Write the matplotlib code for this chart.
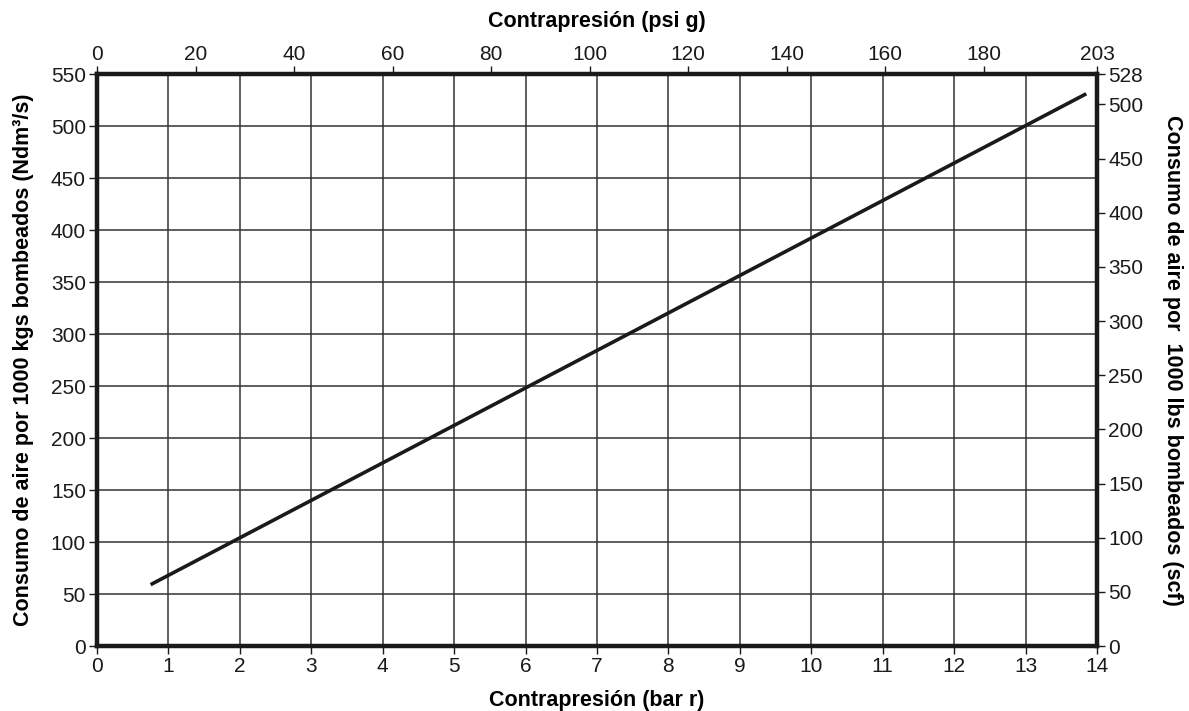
import numpy as np
import matplotlib.pyplot as plt

plt.rcParams['font.family'] = ['Liberation Sans', 'DejaVu Sans']

# datos
bar_r = [0.75, 13.85]
consumo_ndm3 = [59, 531]

bar_ticks = list(range(0, 15))
ndm3_ticks = list(range(0, 551, 50))
psi_ticks = [0, 20, 40, 60, 80, 100, 120, 140, 160, 180, 203]
scf_ticks = [0, 50, 100, 150, 200, 250, 300, 350, 400, 450, 500, 528]

fig = plt.figure(figsize=(11.89, 7.11), dpi=100)
ax = fig.add_axes([0.0816, 0.0914, 0.8410, 0.8045])

ax.set_xlim(0, 14)
ax.set_ylim(0, 550)
ax.set_xticks(bar_ticks)
ax.set_yticks(ndm3_ticks)
ax.grid(True, color='#333333', linewidth=1.1)
ax.set_axisbelow(True)
ax.plot(bar_r, consumo_ndm3, color='#1a1a1a', linewidth=2.6, solid_capstyle='butt')

for s in ax.spines.values():
    s.set_linewidth(3)
    s.set_color('#1a1a1a')
ax.tick_params(labelsize=15, length=6, width=1, direction='out', colors='#1a1a1a', pad=2)
ax.set_xlabel('Contrapresión (bar r)', fontsize=15.5, fontweight='bold', labelpad=10)
ax.set_ylabel('Consumo de aire por 1000 kgs bombeados (Ndm³/s)', fontsize=15.5,
              fontweight='bold', labelpad=12)

top = ax.twiny()
top.set_xlim(0, 203)
top.set_xticks(psi_ticks)
top.tick_params(labelsize=15, length=6, width=1, direction='out', colors='#1a1a1a', pad=1)
top.set_xlabel('Contrapresión (psi g)', fontsize=15.5, fontweight='bold', labelpad=13)

right = ax.twinx()
right.set_ylim(0, 528)
right.set_yticks(scf_ticks)
right.tick_params(labelsize=15, length=6, width=1, direction='out', colors='#1a1a1a', pad=2)
right.set_ylabel('Consumo de aire por  1000 lbs bombeados (scf)', fontsize=15.5,
                 fontweight='bold', rotation=270, labelpad=29)

for a in (top, right):
    for s in a.spines.values():
        s.set_linewidth(3)
        s.set_color('#1a1a1a')

fig.savefig('out.png', dpi=100)
